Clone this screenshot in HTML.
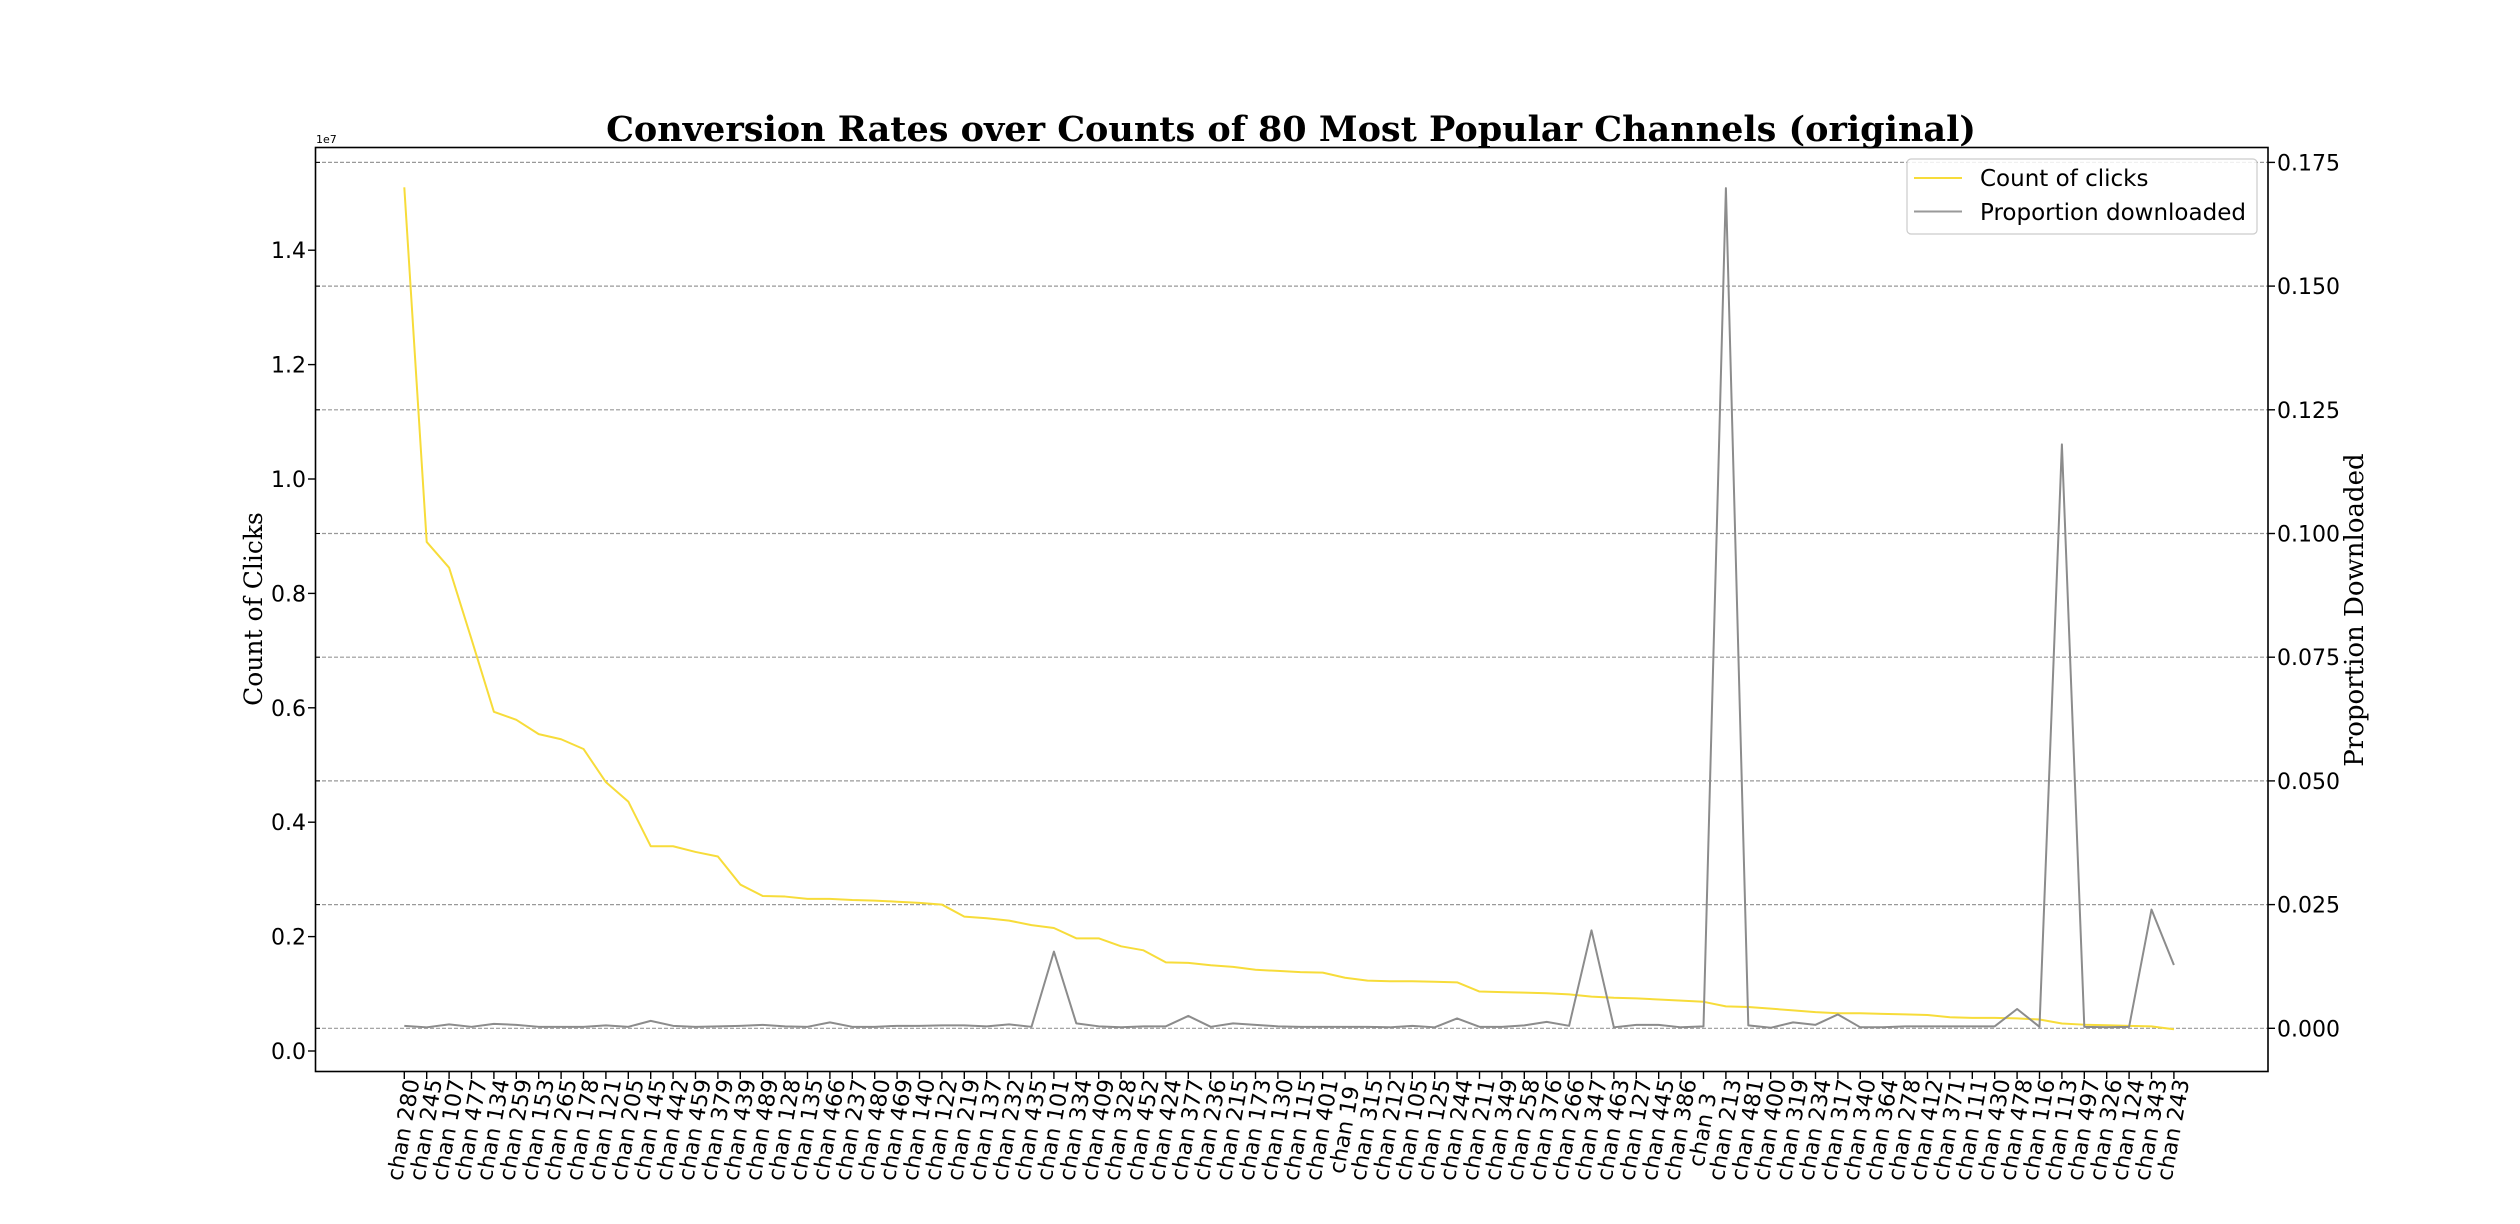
<!DOCTYPE html>
<html><head><meta charset="utf-8"><style>
html,body{margin:0;padding:0;background:#fff;}
svg{display:block;}
</style></head><body>
<svg id="chart" width="2520" height="1224" xmlns="http://www.w3.org/2000/svg">
<rect width="2520" height="1224" fill="#fff"/>
<g id="grid"></g>
<g id="series"></g>
<rect x="315.5" y="147.5" width="1952.5" height="924" fill="none" stroke="#000" stroke-width="1.6"/>
<g id="axes"></g>
<text x="1291" y="141" text-anchor="middle" font-family="'DejaVu Serif','Liberation Serif',serif" font-weight="bold" font-size="35">Conversion Rates over Counts of 80 Most Popular Channels (original)</text>
<text x="316" y="143" font-family="'DejaVu Sans','Liberation Sans',sans-serif" font-size="11">1e7</text>
<text transform="translate(262,609) rotate(-90)" text-anchor="middle" font-family="'DejaVu Serif','Liberation Serif',serif" font-size="25">Count of Clicks</text>
<text transform="translate(2363,610) rotate(-90)" text-anchor="middle" font-family="'DejaVu Serif','Liberation Serif',serif" font-size="26">Proportion Downloaded</text>
<g>
<rect x="1907" y="159" width="350" height="75" rx="4" fill="#fff" fill-opacity="0.85" stroke="#ccc" stroke-width="1.2"/>
<line x1="1914" y1="178" x2="1962" y2="178" stroke="#f7dc3a" stroke-width="2"/>
<text x="1980" y="186" font-family="'DejaVu Sans','Liberation Sans',sans-serif" font-size="23">Count of clicks</text>
<line x1="1914" y1="211.5" x2="1962" y2="211.5" stroke="#999" stroke-width="2"/>
<text x="1980" y="220" font-family="'DejaVu Sans','Liberation Sans',sans-serif" font-size="23">Proportion downloaded</text>
</g>
</svg>
<script>
const channels = ["280","245","107","477","134","259","153","265","178","121","205","145","442","459","379","439","489","128","135","466","237","480","469","140","122","219","137","232","435","101","334","409","328","452","424","377","236","215","173","130","115","401","19","315","212","105","125","244","211","349","258","376","266","347","463","127","445","386","3","213","481","400","319","234","317","340","364","278","412","371","111","430","478","116","113","497","326","124","343","243"];
const clicks = [15.1,8.9,8.45,7.2,5.93,5.79,5.54,5.45,5.28,4.70,4.36,3.58,3.58,3.48,3.40,2.91,2.71,2.70,2.66,2.66,2.64,2.63,2.61,2.59,2.56,2.35,2.32,2.28,2.20,2.15,1.97,1.97,1.83,1.76,1.55,1.54,1.50,1.47,1.42,1.40,1.38,1.37,1.28,1.23,1.22,1.22,1.21,1.20,1.04,1.03,1.02,1.01,0.99,0.95,0.93,0.92,0.90,0.88,0.86,0.78,0.77,0.74,0.71,0.68,0.66,0.66,0.65,0.64,0.63,0.59,0.58,0.58,0.57,0.55,0.48,0.46,0.45,0.44,0.43,0.38];
const proportion = [0.0005,0.0002,0.0008,0.0003,0.0009,0.0007,0.0003,0.0003,0.0003,0.0006,0.0003,0.0015,0.0005,0.0003,0.0004,0.0005,0.0007,0.0004,0.0003,0.0012,0.0003,0.0003,0.0005,0.0005,0.0006,0.0006,0.0004,0.0008,0.0003,0.0155,0.001,0.0004,0.0002,0.0004,0.0004,0.0025,0.0003,0.001,0.0007,0.0004,0.0003,0.0003,0.0003,0.0003,0.0002,0.0005,0.0002,0.002,0.0003,0.0003,0.0006,0.0013,0.0005,0.0198,0.0002,0.0007,0.0007,0.0002,0.0004,0.1698,0.0006,0.0001,0.0012,0.0007,0.0028,0.0002,0.0002,0.0004,0.0004,0.0004,0.0004,0.0004,0.0039,0.0003,0.118,0.0003,0.0002,0.0003,0.024,0.0128];
const leftTicks = [0,0.2,0.4,0.6,0.8,1.0,1.2,1.4];
const rightTicks = [0,0.025,0.05,0.075,0.1,0.125,0.15,0.175];

const NS = "http://www.w3.org/2000/svg";
const xPos = i => 404.3 + i * 22.4;
const yLeft = v => 1051 - v * 57.2;
const yRight = v => 1028.3 - v / 0.025 * 123.7;
function mk(tag, attrs, parent){const e=document.createElementNS(NS,tag);for(const k in attrs)e.setAttribute(k,attrs[k]);parent.appendChild(e);return e;}
const grid=document.getElementById('grid'), series=document.getElementById('series'), axes=document.getElementById('axes');
const font="'DejaVu Sans','Liberation Sans',sans-serif";

rightTicks.forEach((t)=>{
  const y=yRight(t);
  const g=mk('line',{x1:316,x2:2268,y1:y,y2:y,stroke:'#999','stroke-width':1.2,'stroke-dasharray':'4,2'},grid);
  
  
  const tk=mk('line',{x1:2268,x2:2275,y1:y,y2:y,stroke:'#000','stroke-width':1.4},axes);
  
  
  const tk2=mk('line',{x1:316,x2:320,y1:y,y2:y,stroke:'#000','stroke-width':1},axes);
  
  
  const lb=mk('text',{x:2277,y:y+8,'font-family':font,'font-size':22},axes);
  lb.textContent=t.toFixed(3);
  
  
});
leftTicks.forEach((t)=>{
  const y=yLeft(t*10);
  const tk=mk('line',{x1:308,x2:315,y1:y,y2:y,stroke:'#000','stroke-width':1.4},axes);
  
  
  const lb=mk('text',{x:306,y:y+8,'text-anchor':'end','font-family':font,'font-size':22},axes);
  lb.textContent=t.toFixed(1);
  
  
});
channels.forEach((c,i)=>{
  const x=xPos(i);
  const tk=mk('line',{x1:x,x2:x,y1:1072,y2:1079,stroke:'#000','stroke-width':1.4},axes);
  
  
  const lb=mk('text',{transform:`translate(${x},1130) rotate(-80)`,'text-anchor':'middle','dominant-baseline':'central','font-family':font,'font-size':22},axes);
  lb.textContent='chan '+c;
  
  
});
const p1=mk('polyline',{points:clicks.map((v,i)=>xPos(i)+','+yLeft(v)).join(' '),fill:'none',stroke:'#f7dc3a','stroke-width':2,'stroke-linejoin':'round'},series);


const p2=mk('polyline',{points:proportion.map((v,i)=>xPos(i)+','+yRight(v)).join(' '),fill:'none',stroke:'#8c8c8c','stroke-width':2,'stroke-linejoin':'round'},series);


</script>
</body></html>
